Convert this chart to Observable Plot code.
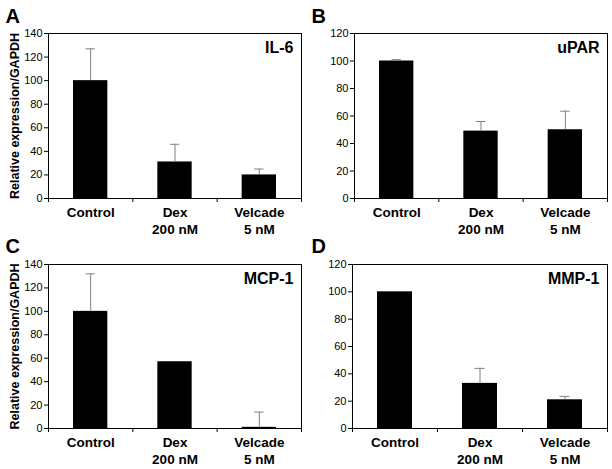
<!DOCTYPE html>
<html><head><meta charset="utf-8">
<script src="https://cdn.jsdelivr.net/npm/d3@7"></script>
<script src="https://cdn.jsdelivr.net/npm/@observablehq/plot@0.6"></script>
<style>
body{margin:0;background:#fff}
#c{position:relative;width:612px;height:469px;overflow:hidden}
#c svg{position:absolute;overflow:visible}
</style>
</head><body><div id="c"></div>
<script>
const categories = ["Control", "Dex\n200 nM", "Velcade\n5 nM"];
const panelLetters = ["A", "B", "C", "D"];
const genes = ["IL-6", "uPAR", "MCP-1", "MMP-1"];
const il6 = [100, 31, 20];
const il6Err = [27, 15, 5];
const upar = [100, 49, 50];
const uparErr = [1, 7, 13.5];
const mcp1 = [100, 57, 1];
const mcp1Err = [32, 0, 13];
const mmp1 = [100, 33, 21];
const mmp1Err = [0, 11, 2.5];
const yMax = [140, 120, 140, 120];
const yLabel = "Relative expression/GAPDH";

const series = [il6, upar, mcp1, mmp1];
const errors = [il6Err, uparErr, mcp1Err, mmp1Err];
const layouts = [
  {left: 0,   top: 0,   h: 235, ml: 48, mt: 33, mb: 37, label: true,  ldy: -25},
  {left: 306, top: 0,   h: 235, ml: 48, mt: 33, mb: 37, label: false, ldy: -25},
  {left: 0,   top: 235, h: 234, ml: 48, mt: 29, mb: 41, label: true,  ldy: -26},
  {left: 306, top: 235, h: 234, ml: 46, mt: 29, mb: 41, label: false, ldy: -26}
];

const container = document.getElementById("c");
layouts.forEach((L, k) => {
  const values = series[k], errs = errors[k], ymax = yMax[k];
  const data = values.map((v, i) => ({i, v, e: errs[i], top: v + errs[i]}));
  const withErr = data.filter(d => d.e > 0);
  const svg = Plot.plot({
    width: 306, height: L.h,
    marginLeft: L.ml, marginRight: 5, marginTop: L.mt, marginBottom: L.mb,
    style: {fontFamily: "'Liberation Sans', Arial, sans-serif", fontSize: "11px", color: "#000", background: "transparent", overflow: "visible"},
    x: {domain: [-0.5, 2.5], axis: null},
    y: {domain: [0, ymax], axis: null},
    marks: [
      Plot.rectY(data, {x1: d => d.i - 0.5, x2: d => d.i + 0.5, y1: 0, y2: "v", insetLeft: 25, insetRight: 25, fill: "#000"}),
      Plot.ruleX(withErr, {x: "i", y1: "v", y2: "top", stroke: "#808080"}),
      Plot.ruleY(withErr, {x1: d => d.i - 0.5, x2: d => d.i + 0.5, y: "top", insetLeft: 37.5, insetRight: 37.5, stroke: "#808080"}),
      Plot.frame({stroke: "#000"}),
      Plot.axisY({ticks: d3.range(0, ymax + 1, 20), tickSize: 4, tickPadding: 2, label: null, fontSize: 11}),
      Plot.axisX({ticks: [-0.5, 0.5, 1.5, 2.5], tickSize: 4, tickFormat: () => "", label: null}),
      Plot.axisX({ticks: [0, 1, 2], tickSize: 0, tickPadding: 7, tickFormat: i => categories[i], label: null, fontSize: 13.5, fontWeight: "bold", lineHeight: 1.22}),
      Plot.text([genes[k]], {frameAnchor: "top-right", dx: -8, dy: 8, textAnchor: "end", lineAnchor: "top", fontSize: 16, fontWeight: "bold"}),
      Plot.text([panelLetters[k]], {frameAnchor: "top-left", dx: 5 - L.ml, dy: L.ldy, textAnchor: "start", lineAnchor: "top", fontSize: 20, fontWeight: "bold"}),
      L.label ? Plot.text([yLabel], {frameAnchor: "left", dx: -34, rotate: -90, textAnchor: "middle", lineAnchor: "middle", fontSize: 12.5, fontWeight: "bold"}) : null
    ]
  });
  svg.style.left = L.left + "px";
  svg.style.top = L.top + "px";
  container.appendChild(svg);
});
</script>
</body></html>
